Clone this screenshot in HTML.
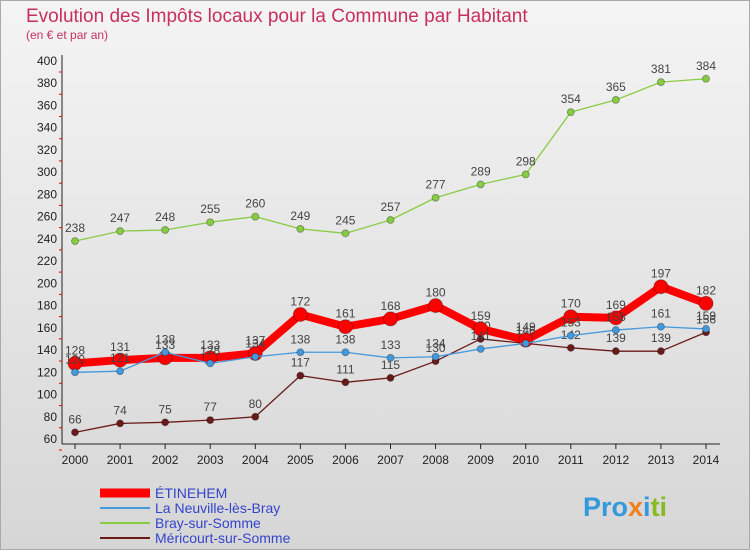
<!DOCTYPE html>
<html><head><meta charset="utf-8"><style>
body{margin:0;width:750px;height:550px;overflow:hidden;font-family:"Liberation Sans",sans-serif}
#bg{position:absolute;left:0;top:0;width:748px;height:548px;border:1px solid #aaa;background:linear-gradient(#f4f4f4,#d6d6d6)}
</style></head><body>
<div id="bg"></div>
<svg id="c" width="750" height="550" style="position:absolute;left:0;top:0">
<text x="26" y="22" font-size="19" fill="#c8305c">Evolution des Impôts locaux pour la Commune par Habitant</text>
<text x="26" y="39" font-size="12" fill="#c8305c">(en € et par an)</text>
<g id="axes"></g><g id="series"></g><g id="legend"></g>
<text x="583" y="516" font-size="27" font-weight="bold" fill="#3399dd">Pro<tspan fill="#f08020">x</tspan><tspan fill="#3399dd">i</tspan><tspan fill="#88bb22">ti</tspan></text>
</svg>
<script>
const years=[2000,2001,2002,2003,2004,2005,2006,2007,2008,2009,2010,2011,2012,2013,2014];
const yTicks=[60,80,100,120,140,160,180,200,220,240,260,280,300,320,340,360,380,400];
const etinehem=[128,131,133,133,137,172,161,168,180,159,149,170,169,197,182];
const neuville=[120,121,138,128,134,138,138,133,134,141,146,153,158,161,159];
const bray=[238,247,248,255,260,249,245,257,277,289,298,354,365,381,384];
const mericourt=[66,74,75,77,80,117,111,115,130,150,146,142,139,139,156];
const NS="http://www.w3.org/2000/svg";
const X=i=>75+i*(706-75)/14;
const Y=v=>439-(v-60)*(378/340);
function mk(t,a,p){const e=document.createElementNS(NS,t);for(const k in a)e.setAttribute(k,a[k]);p.appendChild(e);return e;}
const ax=document.getElementById('axes');
const yAxis=mk('line',{x1:62,y1:55,x2:62,y2:444,stroke:'#222'},ax);


const xAxis=mk('line',{x1:62,y1:444,x2:720,y2:444,stroke:'#222'},ax);


yTicks.forEach(v=>{
 const t=mk('text',{x:57,y:Y(v)+4,'font-size':12,'text-anchor':'end',fill:'#222'},ax);t.textContent=v;
 
 
 mk('line',{x1:59,y1:Y(v)+11,x2:62,y2:Y(v)+11,stroke:'#e00'},ax);
});
years.forEach((y,i)=>{
 const t=mk('text',{x:X(i),y:464,'font-size':12,'text-anchor':'middle',fill:'#222'},ax);t.textContent=y;
 
 
 mk('line',{x1:X(i),y1:444,x2:X(i),y2:449,stroke:'#222'},ax);
});
const sg=document.getElementById('series');
function series(data,color,w,r,name){
 const g=mk('g',{},sg);
 
 
 mk('polyline',{points:data.map((v,i)=>X(i)+','+Y(v)).join(' '),fill:'none',stroke:color,'stroke-width':w,'stroke-linejoin':'round'},g);
 data.forEach((v,i)=>{
  const c=mk('circle',{cx:X(i),cy:Y(v),r:r,fill:color,stroke:'rgba(0,0,0,0.3)'},g);
  
  
  const t=mk('text',{x:X(i),y:Y(v)-9,'font-size':12,'text-anchor':'middle',fill:'#444'},g);t.textContent=v;
 });
}
series(bray,'#88cc44',1.3,3.5,'series-bray-sur-somme');
series(mericourt,'#6b1a1a',1.3,3.5,'series-mericourt-sur-somme');
series(etinehem,'#ff0000',8,7,'series-etinehem');
series(neuville,'#4499dd',1.3,3.5,'series-la-neuville-les-bray');
const lg=document.getElementById('legend');
[['ÉTINEHEM','#ff0000',9],['La Neuville-lès-Bray','#4499dd',2],['Bray-sur-Somme','#88cc44',2],['Méricourt-sur-Somme','#6b1a1a',2]].forEach((e,i)=>{
 const y=493+i*15;
 const l=mk('line',{x1:100,y1:y,x2:150,y2:y,stroke:e[1],'stroke-width':e[2]},lg);
 
 
 const t=mk('text',{x:155,y:y+5,'font-size':14,fill:'#3344cc'},lg);t.textContent=e[0];
 
 
});
</script>
</body></html>
